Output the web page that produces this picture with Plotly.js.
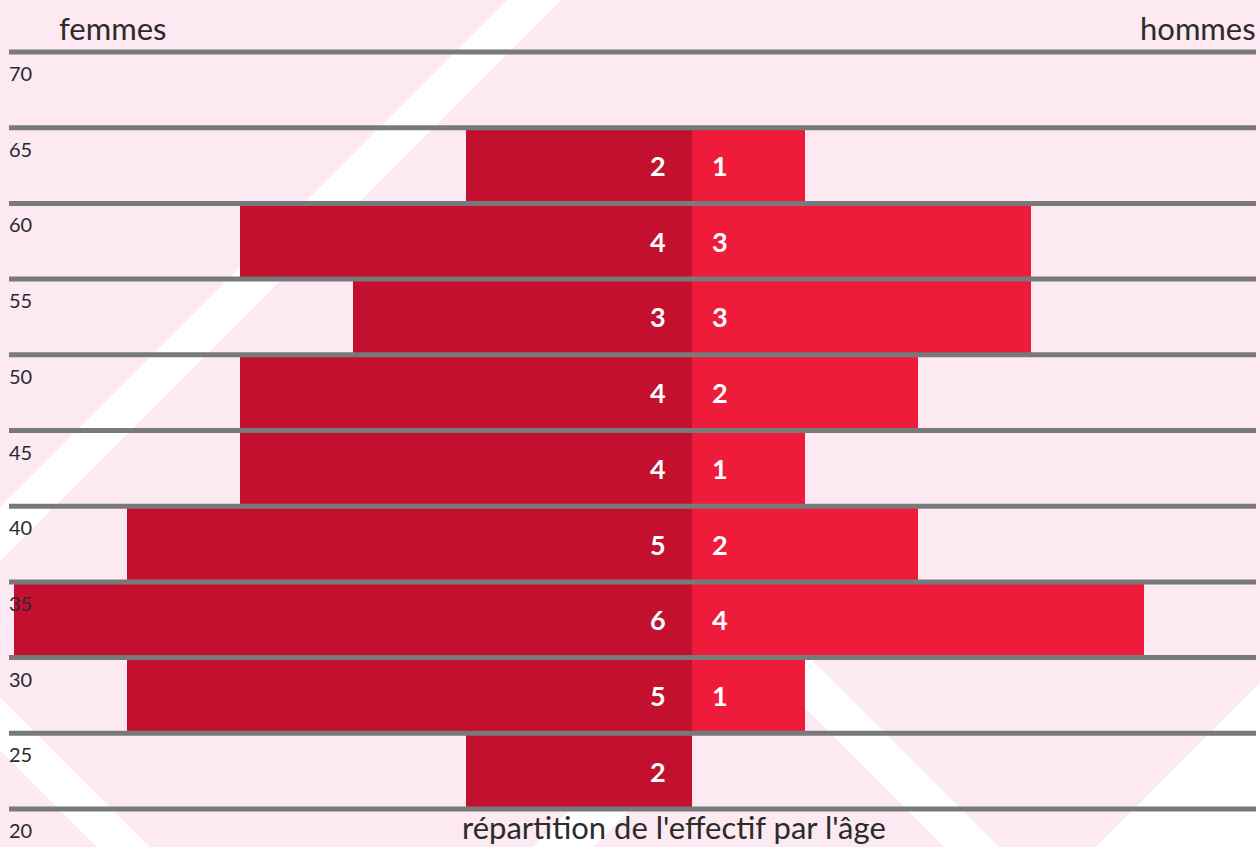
<!DOCTYPE html>
<html>
<head>
<meta charset="utf-8">
<script src="https://cdn.plot.ly/plotly-3.0.1.min.js"></script>
<style>
  html, body { margin: 0; padding: 0; background: #fce9f1; }
  #chart { width: 1260px; height: 847px; }
</style>
</head>
<body>
<div id="chart"></div>
<script>
// ---- data ----
const ageStarts = [20, 25, 30, 35, 40, 45, 50, 55, 60, 65];
const bandSize = 5;
const femmes = [2, 5, 6, 5, 4, 4, 3, 4, 2, 0];
const hommes = [0, 1, 4, 2, 1, 2, 3, 3, 1, 0];
const tickAges = [20, 25, 30, 35, 40, 45, 50, 55, 60, 65, 70];
const tickLabels = ["20", "25", "30", "35", "40", "45", "50", "55", "60", "65", "70"];
const leftTitle = "femmes";
const rightTitle = "hommes";
const bottomTitle = "répartition de l'effectif par l'âge";

// ---- style ----
const W = 1260, H = 847;
const pad = 0.2;                       // small y padding so edge lines are not clipped
const pxPerAge = (809 - 52) / 50;      // pixel height of one year
const M = { l: 9, r: 4, t: Math.round(52 - pad * pxPerAge), b: Math.round(H - 809 - pad * pxPerAge) };
const pw = W - M.l - M.r, ph = H - M.t - M.b;
const pxX = px => (px - M.l) / pw;
const pxY = py => (H - M.b - py) / ph;
const darkRed = "#c3102f", brightRed = "#ee1c3a";
const pink = "#fce9f1", lineGrey = "#78797b", textCol = "#2b2b2b";
const fontFam = "Lato, 'Open Sans', sans-serif";

const yMid = ageStarts.map(a => a + bandSize / 2);

const traces = [
  {
    type: "bar", orientation: "h",
    y: yMid, x: femmes.map(v => -v), width: bandSize,
    marker: { color: darkRed, line: { width: 0 } },
    hoverinfo: "skip", showlegend: false
  },
  {
    type: "bar", orientation: "h",
    y: yMid, x: hommes, width: bandSize,
    marker: { color: brightRed, line: { width: 0 } },
    hoverinfo: "skip", showlegend: false
  }
];

// background stripes (pixel polygons converted to paper coords)
function poly(pts) {
  return {
    type: "path", xref: "paper", yref: "paper", layer: "below",
    path: pts.map((p, i) => (i ? "L" : "M") + pxX(p[0]).toFixed(5) + "," + pxY(p[1]).toFixed(5)).join(" ") + " Z",
    fillcolor: "#ffffff", line: { width: 0 }
  };
}
const shapes = [
  poly([[507, 0], [561, 0], [0, 561], [0, 507]]),
  poly([[597, 500], [652, 500], [999, 847], [944, 847]]),
  poly([[0, 697], [150, 847], [97, 847], [0, 750]]),
  poly([[1260, 683], [1260, 847], [1096, 847]]),
  poly([[585, 795], [645, 795], [593, 847], [533, 847]])
];
tickAges.forEach(a => {
  shapes.push({
    type: "line", xref: "paper", yref: "y", layer: "above",
    x0: 0, x1: 1, y0: a, y1: a,
    line: { color: lineGrey, width: 5 }
  });
});

const annotations = [];
// value labels
femmes.forEach((v, i) => {
  if (v > 0) annotations.push({
    x: -0.3, y: yMid[i], xref: "x", yref: "y", text: String(v), showarrow: false,
    xanchor: "center", yanchor: "middle",
    font: { family: fontFam, size: 27, color: "#ffffff", weight: 700 }
  });
});
hommes.forEach((v, i) => {
  if (v > 0) annotations.push({
    x: 0.25, y: yMid[i], xref: "x", yref: "y", text: String(v), showarrow: false,
    xanchor: "center", yanchor: "middle",
    font: { family: fontFam, size: 27, color: "#ffffff", weight: 700 }
  });
});
// age labels below each line
tickAges.forEach((a, i) => {
  annotations.push({
    x: 0, y: a, xref: "paper", yref: "y", text: tickLabels[i], showarrow: false,
    xanchor: "left", yanchor: "middle", xshift: -2, yshift: -21,
    font: { family: fontFam, size: 20, color: textCol }
  });
});
// titles
annotations.push({
  x: pxX(57), y: pxY(28), xref: "paper", yref: "paper", text: leftTitle, showarrow: false,
  xanchor: "left", yanchor: "middle", font: { family: fontFam, size: 31, color: textCol }
});
annotations.push({
  x: pxX(1258), y: pxY(28), xref: "paper", yref: "paper", text: rightTitle, showarrow: false,
  xanchor: "right", yanchor: "middle", font: { family: fontFam, size: 31, color: textCol }
});
annotations.push({
  x: pxX(674), y: pxY(827), xref: "paper", yref: "paper", text: bottomTitle, showarrow: false,
  xanchor: "center", yanchor: "middle", font: { family: fontFam, size: 31, color: textCol }
});

const unit = 113;
const layout = {
  width: W, height: H,
  margin: M,
  paper_bgcolor: pink,
  plot_bgcolor: "rgba(0,0,0,0)",
  barmode: "overlay",
  bargap: 0,
  xaxis: {
    range: [-(692 - M.l) / unit, (W - M.r - 692) / unit],
    showgrid: false, zeroline: false, showticklabels: false, ticks: "", showline: false, fixedrange: true
  },
  yaxis: {
    range: [20 - pad, 70 + pad],
    showgrid: false, zeroline: false, showticklabels: false, ticks: "", showline: false, fixedrange: true
  },
  shapes: shapes,
  annotations: annotations,
  showlegend: false
};

Plotly.newPlot("chart", traces, layout, { displayModeBar: false, staticPlot: true });
</script>
</body>
</html>
